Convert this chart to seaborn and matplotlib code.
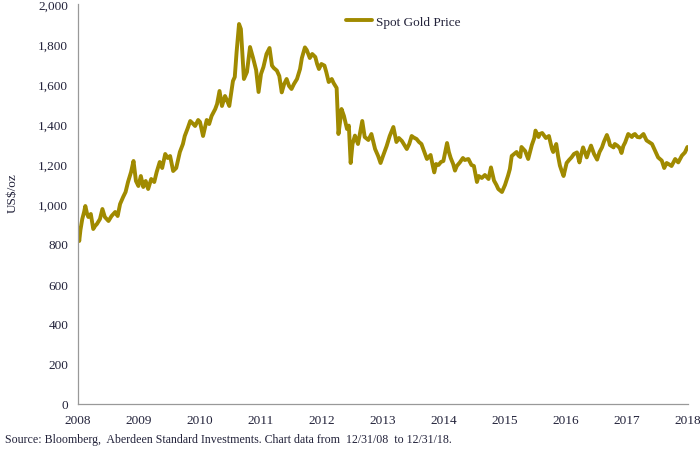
import matplotlib
matplotlib.use("Agg")
import matplotlib.pyplot as plt
import seaborn as sns
import pandas as pd
from matplotlib.ticker import FuncFormatter

# ---- data ----
years = [
    2008.00, 2008.02, 2008.04, 2008.07, 2008.10, 2008.12, 2008.15, 2008.17, 2008.21, 2008.25,
    2008.28, 2008.31, 2008.36, 2008.40, 2008.44, 2008.50, 2008.55, 2008.61, 2008.65, 2008.69,
    2008.74, 2008.78, 2008.82, 2008.87, 2008.91, 2008.95, 2008.99, 2009.03, 2009.07, 2009.11,
    2009.15, 2009.20, 2009.25, 2009.29, 2009.34, 2009.38, 2009.43, 2009.47, 2009.51, 2009.56,
    2009.61, 2009.67, 2009.72, 2009.75, 2009.80, 2009.84, 2009.89, 2009.92, 2009.97, 2010.00,
    2010.05, 2010.11, 2010.15, 2010.19, 2010.25, 2010.28, 2010.32, 2010.36, 2010.41, 2010.44,
    2010.48, 2010.54, 2010.57, 2010.60, 2010.64, 2010.67, 2010.69, 2010.72, 2010.77, 2010.82,
    2010.87, 2010.92, 2010.96, 2011.00, 2011.04, 2011.09, 2011.14, 2011.18, 2011.21, 2011.26,
    2011.30, 2011.34, 2011.38, 2011.42, 2011.46, 2011.50, 2011.54, 2011.59, 2011.64, 2011.67,
    2011.72, 2011.75, 2011.80, 2011.84, 2011.89, 2011.92, 2011.95, 2011.99, 2012.04, 2012.07,
    2012.11, 2012.16, 2012.19, 2012.24, 2012.27, 2012.30, 2012.32, 2012.36, 2012.41, 2012.44,
    2012.47, 2012.50, 2012.54, 2012.59, 2012.62, 2012.66, 2012.70, 2012.76, 2012.81, 2012.87,
    2012.92, 2012.96, 2013.00, 2013.06, 2013.11, 2013.17, 2013.22, 2013.26, 2013.31, 2013.34,
    2013.39, 2013.43, 2013.47, 2013.50, 2013.55, 2013.59, 2013.63, 2013.66, 2013.72, 2013.78,
    2013.81, 2013.84, 2013.87, 2013.91, 2013.95, 2013.99, 2014.02, 2014.05, 2014.08, 2014.11,
    2014.15, 2014.18, 2014.21, 2014.26, 2014.31, 2014.34, 2014.40, 2014.45, 2014.49, 2014.54,
    2014.57, 2014.62, 2014.67, 2014.73, 2014.77, 2014.82, 2014.86, 2014.89, 2014.95, 2015.00,
    2015.05, 2015.08, 2015.11, 2015.15, 2015.19, 2015.22, 2015.25, 2015.27, 2015.33, 2015.38,
    2015.44, 2015.48, 2015.50, 2015.55, 2015.57, 2015.61, 2015.67, 2015.72, 2015.77, 2015.79,
    2015.84, 2015.87, 2015.90, 2015.93, 2015.96, 2016.01, 2016.05, 2016.09, 2016.13, 2016.18,
    2016.22, 2016.25, 2016.28, 2016.34, 2016.37, 2016.41, 2016.46, 2016.51, 2016.55, 2016.59,
    2016.62, 2016.67, 2016.70, 2016.72, 2016.78, 2016.80, 2016.84, 2016.88, 2016.91, 2016.94,
    2016.97, 2017.02, 2017.08, 2017.10, 2017.13, 2017.17, 2017.21, 2017.27, 2017.32, 2017.36,
    2017.41, 2017.46, 2017.51, 2017.57, 2017.61, 2017.65, 2017.68, 2017.73, 2017.79, 2017.84,
    2017.90, 2017.95, 2017.99,
]
price = [
    880, 815, 870, 925, 960, 990, 950, 935, 950, 875,
    890, 900, 925, 975, 935, 915, 940, 960, 940, 1000,
    1035, 1060, 1110, 1160, 1215, 1115, 1090, 1140, 1085, 1115,
    1075, 1125, 1110, 1160, 1210, 1180, 1250, 1230, 1240, 1165,
    1180, 1260, 1300, 1340, 1380, 1415, 1400, 1390, 1420, 1410,
    1340, 1420, 1400, 1440, 1475, 1500, 1565, 1490, 1540, 1520,
    1490, 1615, 1635, 1760, 1900, 1875, 1775, 1625, 1660, 1785,
    1730, 1670, 1560, 1650, 1685, 1750, 1780, 1692, 1680, 1667,
    1640, 1558, 1600, 1625, 1590, 1575, 1600, 1625, 1675, 1730,
    1783, 1770, 1730, 1750, 1735, 1700, 1675, 1700, 1692, 1660,
    1610, 1625, 1605, 1580, 1350, 1420, 1475, 1440, 1375, 1392,
    1205, 1300, 1342, 1300, 1350, 1415, 1335, 1320, 1350, 1275,
    1240, 1205, 1240, 1290, 1340, 1385, 1310, 1330, 1315, 1300,
    1275, 1300, 1340, 1333, 1325, 1310, 1300, 1275, 1225, 1245,
    1200, 1158, 1200, 1195, 1210, 1215, 1260, 1305, 1260, 1230,
    1200, 1167, 1190, 1208, 1230, 1220, 1225, 1195, 1190, 1110,
    1140, 1130, 1145, 1125, 1183, 1117, 1095, 1075, 1060, 1095,
    1142, 1175, 1240, 1250, 1260, 1242, 1235, 1285, 1265, 1225,
    1295, 1330, 1367, 1335, 1350, 1355, 1330, 1340, 1275, 1260,
    1300, 1240, 1192, 1165, 1140, 1205, 1220, 1233, 1250, 1258,
    1208, 1250, 1283, 1233, 1260, 1292, 1250, 1222, 1260, 1283,
    1310, 1345, 1320, 1295, 1283, 1300, 1292, 1280, 1255, 1290,
    1308, 1350, 1335, 1345, 1350, 1335, 1333, 1350, 1318, 1310,
    1300, 1267, 1233, 1217, 1180, 1205, 1200, 1190, 1225, 1208,
    1242, 1258, 1285,
]
series_name = "Spot Gold Price"
x_tick_labels = [str(y) for y in range(2008, 2019)]
y_ticks = list(range(0, 2001, 200))

df = pd.DataFrame({"Year": years, "Price": price})

sns.set_style("white")
plt.rcParams["font.family"] = ["Liberation Serif", "DejaVu Serif"]

fig = plt.figure(figsize=(7.0, 4.52), dpi=100)
ax = fig.add_axes([78 / 700, 47 / 452, 610 / 700, 400 / 452])

line_color = "#A08A00"
sns.lineplot(data=df, x="Year", y="Price", ax=ax, color=line_color,
             linewidth=2.8, label=series_name)

ax.set_xlim(2008, 2018)
ax.set_ylim(0, 2000)
ax.set_xticks(range(2008, 2019))
ax.set_xticklabels(x_tick_labels)
ax.set_yticks(y_ticks)
ax.yaxis.set_major_formatter(FuncFormatter(lambda v, p: f"{int(v):,}"))

text_color = "#22223a"
ax.tick_params(axis="both", direction="out", length=4, width=0.8,
               color="#999999", labelsize=9.5, labelcolor=text_color, pad=3)
for side in ["top", "right"]:
    ax.spines[side].set_visible(False)
for side in ["left", "bottom"]:
    ax.spines[side].set_color("#999999")
    ax.spines[side].set_linewidth(0.9)

ax.set_xlabel("")
ax.set_ylabel("US$/oz", fontsize=9.5, color=text_color)
ax.yaxis.set_label_coords(-0.097, 0.53)

leg = ax.legend(loc="upper left", bbox_to_anchor=(0.42, 1.0), frameon=False,
                fontsize=9.5, handlelength=2.0, handletextpad=0.25)
for t in leg.get_texts():
    t.set_color(text_color)

fig.text(5 / 700, 1 - 440 / 452,
         "Source: Bloomberg,  Aberdeen Standard Investments. Chart data from  12/31/08  to 12/31/18.",
         fontsize=8.6, color=text_color, ha="left", va="center")

fig.savefig("out.png", dpi=100)
